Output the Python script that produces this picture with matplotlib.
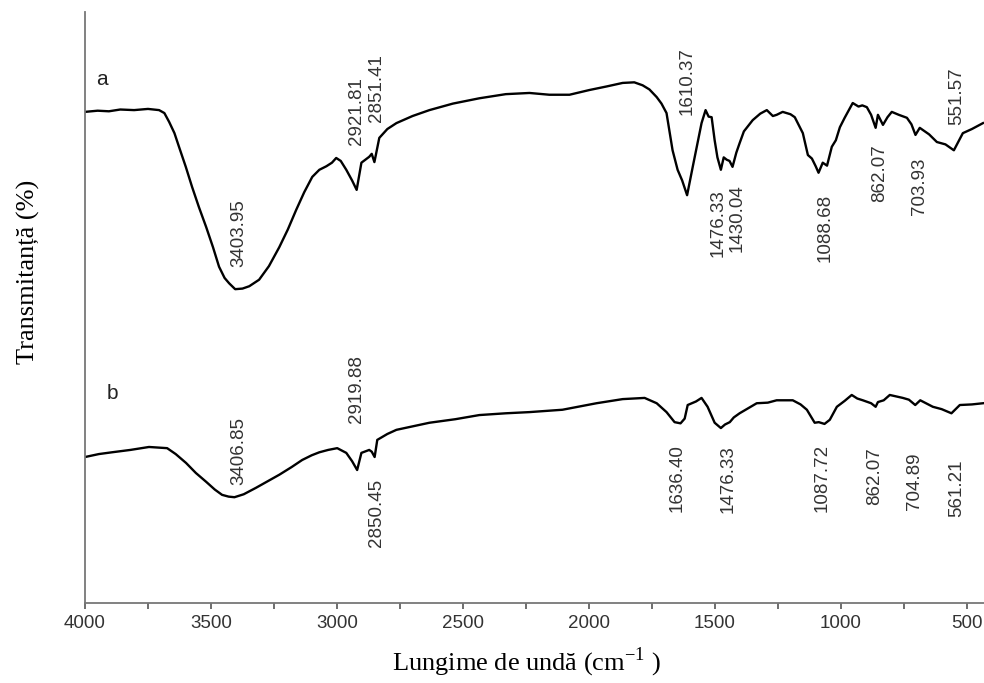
import numpy as np
import matplotlib.pyplot as plt
from matplotlib.ticker import MultipleLocator

plt.rcParams['font.family'] = ['Liberation Sans', 'DejaVu Sans']
plt.rcParams['mathtext.fontset'] = 'custom'
plt.rcParams['mathtext.rm'] = 'Liberation Serif'

## spectrum a (wavenumber, transmittance)
wn_a = [4000, 3950, 3905, 3860, 3805, 3750, 3706, 3685, 3666, 3645, 3627, 3600, 3575,
        3548, 3519, 3492, 3468, 3446, 3428, 3404, 3375, 3348, 3309, 3270, 3229, 3195,
        3162, 3130, 3098, 3070, 3042, 3020, 3003, 2985, 2963, 2940, 2921.81, 2903,
        2872, 2862, 2851.41, 2832, 2800, 2764, 2700, 2633, 2540, 2435, 2330, 2236, 2157,
        2077, 1998, 1930, 1866, 1820, 1787, 1760, 1731, 1712, 1692, 1668, 1648, 1630,
        1610.37, 1588, 1553, 1537, 1525, 1513, 1501, 1490, 1476.33, 1465, 1453, 1442,
        1430.04, 1415, 1402, 1385, 1350, 1320, 1294, 1270, 1255, 1231, 1200, 1183,
        1151, 1131, 1115, 1100, 1088.68, 1072, 1055, 1036, 1020, 1004, 985, 953, 930,
        915, 897, 880, 862.07, 853, 833, 815, 798, 770, 738, 720, 703.93, 687, 650,
        619, 585, 551.57, 516, 480, 436]
tr_a = [83.1, 83.3, 83.2, 83.5, 83.4, 83.6, 83.4, 82.9, 81.4, 79.5, 77.2, 73.8, 70.4,
        67.0, 63.6, 60.2, 56.9, 55.0, 54.1, 53.1, 53.2, 53.6, 54.7, 57.0, 60.2, 63.2,
        66.5, 69.5, 72.1, 73.3, 73.9, 74.5, 75.3, 74.8, 73.3, 71.5, 69.9, 74.5,
        75.5, 76.0, 74.6, 78.7, 80.2, 81.2, 82.4, 83.4, 84.5, 85.4, 86.1, 86.3, 86.0,
        86.0, 86.8, 87.4, 88.0, 88.1, 87.6, 86.9, 85.6, 84.5, 82.9, 76.6, 73.3, 71.5,
        69.0, 73.8, 81.2, 83.4, 82.3, 82.2, 78.3, 75.4, 73.3, 75.4, 75.0, 74.8,
        73.8, 76.2, 77.8, 79.8, 81.7, 82.8, 83.4, 82.4, 82.6, 83.1, 82.7, 82.2,
        79.5, 75.8, 75.2, 73.9, 72.8, 74.5, 74.0, 77.2, 78.3, 80.5, 82.1, 84.6, 84.0,
        84.2, 83.9, 82.6, 80.4, 82.6, 80.9, 82.2, 83.1, 82.6, 82.1, 81.0, 79.2, 80.4, 79.3,
        78.0, 77.6, 76.6, 79.5, 80.2, 81.2]

## spectrum b
wn_b = [4000, 3945, 3893, 3820, 3746, 3674, 3640, 3599, 3560, 3519, 3485, 3456, 3430,
        3406.85, 3370, 3321, 3275, 3229, 3180, 3138, 3100, 3070, 3035, 2999, 2963, 2940,
        2919.88, 2903, 2872, 2862, 2850.45, 2840, 2800, 2764,
        2633, 2530, 2435, 2330, 2236, 2105, 1970, 1866, 1779, 1731, 1692, 1660,
        1636.40, 1620, 1608, 1575, 1553, 1529, 1501, 1476.33, 1460, 1441, 1425, 1402,
        1334, 1290, 1255, 1191, 1160, 1135, 1104, 1087.72, 1065, 1044, 1016, 985, 957,
        935, 913, 880, 862.07, 853, 830, 806, 754, 730, 704.89, 685, 635, 600,
        561.21, 528, 480, 436]
tr_b = [24.7, 25.2, 25.5, 25.9, 26.4, 26.2, 25.2, 23.7, 22.0, 20.5, 19.2, 18.3, 18.0,
        17.9, 18.4, 19.5, 20.6, 21.7, 23.0, 24.2, 25.0, 25.5, 25.9, 26.2, 25.4, 24.0,
        22.5, 25.4, 25.9, 25.6, 24.7, 27.6, 28.6, 29.3,
        30.5, 31.1, 31.8, 32.1, 32.3, 32.7, 33.8, 34.5, 34.7, 33.8, 32.3, 30.6,
        30.4, 31.2, 33.5, 34.1, 34.7, 33.2, 30.5, 29.6, 30.2, 30.6, 31.4, 32.1,
        33.8, 33.9, 34.3, 34.3, 33.6, 32.7, 30.5, 30.6, 30.3, 31.0, 33.2, 34.2, 35.2,
        34.6, 34.3, 33.8, 33.2, 34.0, 34.3, 35.2, 34.7, 34.4, 33.5, 34.3, 33.2, 32.8,
        32.1, 33.5, 33.6, 33.8]

## peak labels
peaks_a = ['3403.95', '2921.81', '2851.41', '1610.37', '1476.33', '1430.04',
           '1088.68', '862.07', '703.93', '551.57']
peaks_b = ['3406.85', '2919.88', '2850.45', '1636.40', '1476.33', '1087.72',
           '862.07', '704.89', '561.21']

# where the labels sit (x in cm-1, y = bottom of the rotated text)
lab_a_x = [3388, 2923, 2844, 1612, 1489, 1410, 1064, 846, 687, 539]
lab_a_y = [56.9, 77.5, 81.4, 82.6, 58.5, 59.4, 57.7, 67.9, 65.7, 80.9]
lab_b_x = [3388, 2923, 2844, 1648, 1449, 1076, 865, 706, 539]
lab_b_y = [20.0, 30.5, 9.5, 15.4, 15.2, 15.4, 16.6, 15.7, 14.6]

fig = plt.figure(figsize=(9.84, 6.83), dpi=100)
ax = fig.add_axes([85 / 984, 80 / 683, 1 - 85 / 984, 591 / 683])

ax.plot(wn_a, tr_a, color='black', lw=1.7)
ax.plot(wn_b, tr_b, color='black', lw=1.7)

txt_col = '#333333'
for s, x, y in zip(peaks_a, lab_a_x, lab_a_y):
    ax.text(x, y, s, rotation=90, ha='center', va='bottom', fontsize=13.5, color=txt_col)
for s, x, y in zip(peaks_b, lab_b_x, lab_b_y):
    ax.text(x, y, s, rotation=90, ha='center', va='bottom', fontsize=13.5, color=txt_col)

ax.text(3932, 88.5, 'a', fontsize=15, ha='center', va='center', color='#222222')
ax.text(3893, 35.5, 'b', fontsize=15, ha='center', va='center', color='#222222')

ax.set_xlim(4000, 432)
ax.set_ylim(0, 100)
ax.xaxis.set_major_locator(MultipleLocator(500))
ax.xaxis.set_minor_locator(MultipleLocator(250))
ax.tick_params(axis='x', which='both', direction='out', length=4, width=1.2,
               colors='#555555', labelcolor=txt_col, labelsize=13.5, pad=5)
ax.set_yticks([])
for side in ['top', 'right']:
    ax.spines[side].set_visible(False)
for side in ['left', 'bottom']:
    ax.spines[side].set_color('#777777')
    ax.spines[side].set_linewidth(1.3)

fig.text(527 / 984, 1 - 662 / 683, r'Lungime de undă (cm$^{\mathregular{-1}}$ )',
         family='Liberation Serif', fontsize=19, ha='center', va='center')
fig.text(28 / 984, 1 - 272 / 683, 'Transmitanță (%)', family='Liberation Serif',
         fontsize=19, rotation=90, ha='center', va='center')

fig.savefig('out.png', dpi=100)
